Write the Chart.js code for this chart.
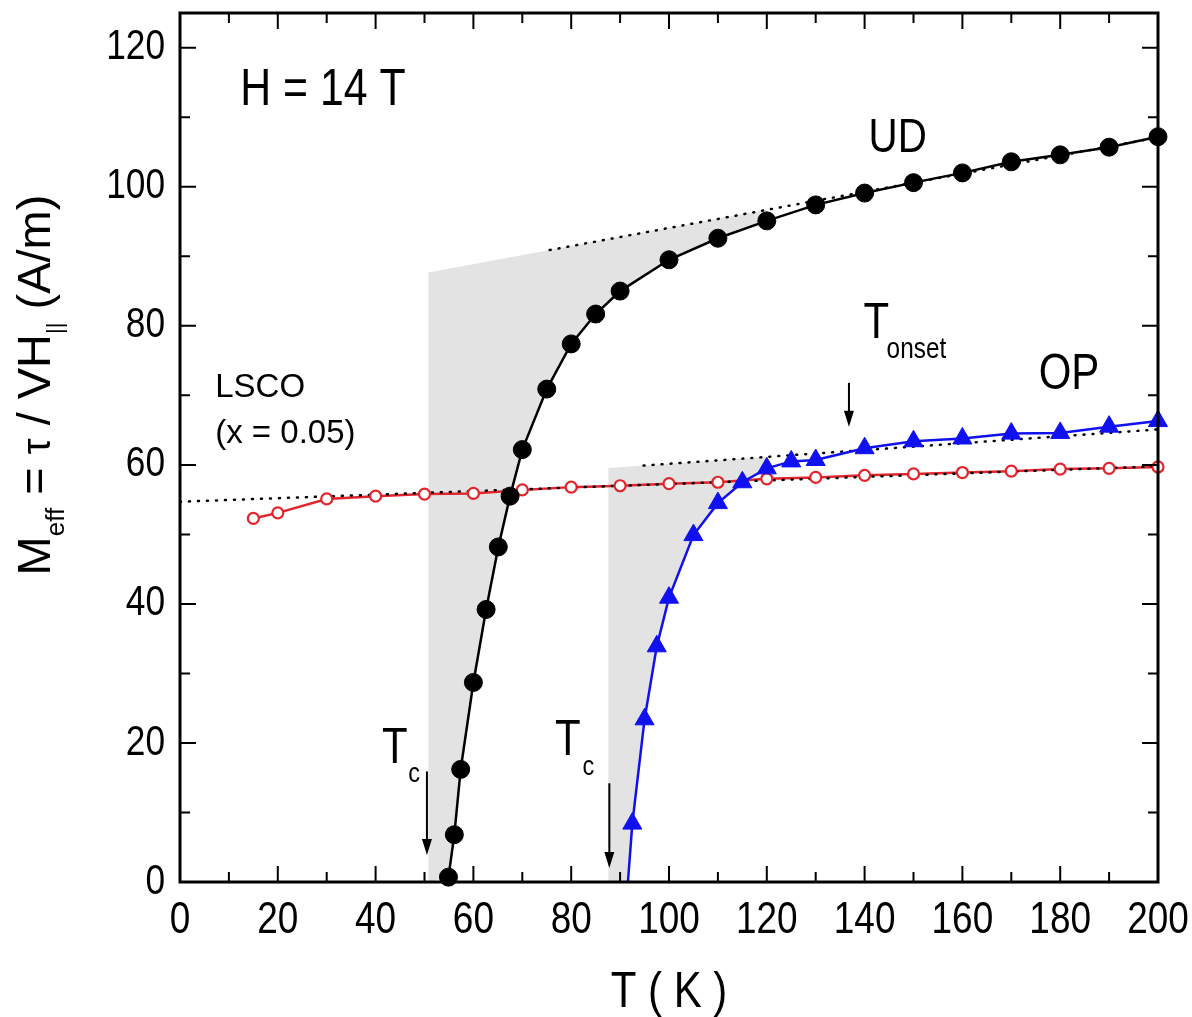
<!DOCTYPE html>
<html>
<head>
<meta charset="utf-8">
<script src="https://cdn.jsdelivr.net/npm/chart.js@4.4.1/dist/chart.umd.min.js"></script>
<style>
  html, body { margin: 0; padding: 0; background: #fff; }
</style>
</head>
<body>
<canvas id="magChart" width="1192" height="1017"></canvas>
<script>
// temperature (K) and effective magnetization (A/m)
const udT = [54.9, 56.1, 57.4, 60, 62.6, 65.1, 67.5, 70, 75, 80, 85, 90, 100, 110, 120, 130, 140, 150, 160, 170, 180, 190, 200];
const udM = [0.7, 6.8, 16.2, 28.7, 39.2, 48.2, 55.5, 62.2, 70.9, 77.4, 81.7, 85.0, 89.5, 92.6, 95.1, 97.4, 99.1, 100.6, 102.0, 103.6, 104.6, 105.7, 107.2];

const opT = [91.6, 92.5, 95, 97.5, 100, 105, 110, 115, 120, 125, 130, 140, 150, 160, 170, 180, 190, 200];
const opM = [0, 8.4, 23.4, 33.9, 40.9, 49.9, 54.5, 57.5, 59.5, 60.5, 60.7, 62.4, 63.4, 63.8, 64.5, 64.6, 65.5, 66.3];

const lscoT = [15, 20, 30, 40, 50, 60, 70, 80, 90, 100, 110, 120, 130, 140, 150, 160, 170, 180, 190, 200];
const lscoM = [52.3, 53.1, 55.1, 55.5, 55.8, 55.9, 56.4, 56.8, 57.0, 57.3, 57.5, 58.0, 58.2, 58.5, 58.7, 58.9, 59.1, 59.4, 59.5, 59.7];

// linear high-temperature backgrounds (end points)
const udFitT = [75.6, 200];
const udFitM = [90.9, 107.1];
const opFitT = [94.8, 200];
const opFitM = [59.9, 65.1];
const lscoFitT = [0, 200];
const lscoFitM = [54.7, 59.8];

// Tc and onset markers
const tcUD = 50.5;
const tcOP = 87.8;
const tOnset = 136.8;
const shadeUD = [50.8, 120];
const shadeOP = [87.6, 120];

const SANS = "'Liberation Sans', Arial, sans-serif";
const NARROW_X = 0.84;   // horizontal squeeze for the condensed lettering
const GREY = '#e3e3e3';
const RED = '#e3242b';
const BLUE = '#1010f0';

const pts = (xs, ys) => xs.map((x, i) => ({ x, y: ys[i] }));
const fitAt = (fT, fM, t) => fM[0] + (t - fT[0]) * (fM[1] - fM[0]) / (fT[1] - fT[0]);

// area between extrapolated background and the measured curve
function shadePoly(range, fT, fM, sT, sM) {
  const poly = [
    { x: range[0], y: 0 },
    { x: range[0], y: fitAt(fT, fM, range[0]) },
    { x: range[1], y: fitAt(fT, fM, range[1]) }
  ];
  for (let i = sT.length - 1; i >= 0; i--) {
    if (sT[i] <= range[1]) poly.push({ x: sT[i], y: sM[i] });
  }
  return poly;
}

// text squeezed horizontally
function narrowText(ctx, text, x, y, size, align, sx = NARROW_X) {
  ctx.save();
  ctx.font = `${size}px ${SANS}`;
  ctx.textAlign = align || 'left';
  ctx.scale(sx, 1);
  ctx.fillText(text, x / sx, y);
  ctx.restore();
}

const frameTicks = {
  id: 'frameTicks',
  afterDatasetsDraw(chart) {
    const { ctx, chartArea: a, scales: { x, y } } = chart;
    ctx.save();
    ctx.strokeStyle = '#000';
    ctx.fillStyle = '#000';
    ctx.lineWidth = 2;
    x.ticks.forEach(tk => {
      const px = x.getPixelForValue(tk.value);
      const major = tk.value % 20 === 0;
      const len = major ? 16 : 10;
      ctx.beginPath();
      ctx.moveTo(px, a.bottom); ctx.lineTo(px, a.bottom - len);
      ctx.moveTo(px, a.top); ctx.lineTo(px, a.top + len);
      ctx.stroke();
      if (major) {
        ctx.textBaseline = 'alphabetic';
        narrowText(ctx, String(tk.value), px, a.bottom + 51, 44, 'center');
      }
    });
    y.ticks.forEach(tk => {
      const py = y.getPixelForValue(tk.value);
      const major = tk.value % 20 === 0;
      const len = major ? 16 : 10;
      ctx.beginPath();
      ctx.moveTo(a.left, py); ctx.lineTo(a.left + len, py);
      ctx.moveTo(a.right, py); ctx.lineTo(a.right - len, py);
      ctx.stroke();
      if (major) {
        ctx.textBaseline = 'middle';
        narrowText(ctx, String(tk.value), a.left - 15, py, 42, 'right');
      }
    });
    ctx.lineWidth = 3;
    ctx.strokeRect(a.left, a.top, a.right - a.left, a.bottom - a.top);
    ctx.restore();
  }
};

function drawArrow(ctx, px, y0, y1) {
  ctx.beginPath();
  ctx.moveTo(px, y0);
  ctx.lineTo(px, y1 - 14);
  ctx.stroke();
  ctx.beginPath();
  ctx.moveTo(px - 5, y1 - 16);
  ctx.lineTo(px + 5, y1 - 16);
  ctx.lineTo(px, y1);
  ctx.closePath();
  ctx.fill();
}

const labels = {
  id: 'labels',
  afterDraw(chart) {
    const { ctx, chartArea: a, scales: { x, y } } = chart;
    const put = (text, t, m, size) =>
      narrowText(ctx, text, x.getPixelForValue(t), y.getPixelForValue(m), size, 'left');
    ctx.save();
    ctx.fillStyle = '#000';
    ctx.strokeStyle = '#000';
    ctx.lineWidth = 2;
    ctx.textBaseline = 'alphabetic';

    put('H = 14 T', 12.3, 111.7, 51);
    put('UD', 140.8, 105.0, 48);
    put('OP', 175.6, 70.9, 50);
    put('T', 139.8, 78.3, 50);
    put('onset', 144.5, 75.4, 29);
    put('T', 41.3, 17.1, 50);
    put('c', 46.7, 14.4, 28);
    put('T', 76.7, 18.3, 50);
    put('c', 82.3, 15.4, 28);

    ctx.font = `33px ${SANS}`;
    ctx.textAlign = 'left';
    ctx.fillText('LSCO', x.getPixelForValue(7.2), y.getPixelForValue(69.8));
    ctx.fillText('(x = 0.05)', x.getPixelForValue(7.2), y.getPixelForValue(63.2));

    drawArrow(ctx, x.getPixelForValue(tcUD), y.getPixelForValue(15.9), y.getPixelForValue(3.9));
    drawArrow(ctx, x.getPixelForValue(tcOP), y.getPixelForValue(14.2), y.getPixelForValue(2.0));
    drawArrow(ctx, x.getPixelForValue(tOnset), y.getPixelForValue(71.8), y.getPixelForValue(65.5));

    // x axis title
    narrowText(ctx, 'T ( K )', (a.left + a.right) / 2, 1007, 50, 'center');

    // y axis title with subscripts, rotated
    const parts = [
      { t: 'M', f: `47px ${SANS}`, dy: 0 },
      { t: 'eff', f: `26px ${SANS}`, dy: 14 },
      { t: ' = ', f: `47px ${SANS}`, dy: 0 },
      { t: 'τ', f: `40px ${SANS}`, dy: 0 },
      { t: ' / VH', f: `47px ${SANS}`, dy: 0 },
      { t: '||', f: `22px ${SANS}`, dy: 12 },
      { t: ' (A/m)', f: `47px ${SANS}`, dy: 0 }
    ];
    let total = 0;
    parts.forEach(p => { ctx.font = p.f; p.w = ctx.measureText(p.t).width; total += p.w; });
    ctx.translate(50, 385);
    ctx.rotate(-Math.PI / 2);
    ctx.textAlign = 'left';
    let cx = -total / 2;
    parts.forEach(p => {
      ctx.font = p.f;
      ctx.fillText(p.t, cx, p.dy);
      cx += p.w;
    });
    ctx.restore();
  }
};

const dotted = {
  showLine: true, borderColor: '#000', borderWidth: 2.5,
  borderDash: [1, 8], borderCapStyle: 'round', pointRadius: 0, order: 6
};

new Chart(document.getElementById('magChart').getContext('2d'), {
  type: 'scatter',
  data: {
    datasets: [
      {
        data: shadePoly(shadeUD, udFitT, udFitM, udT, udM),
        showLine: true, fill: 'shape', backgroundColor: GREY,
        borderWidth: 0, pointRadius: 0, order: 10
      },
      {
        data: shadePoly(shadeOP, opFitT, opFitM, opT, opM),
        showLine: true, fill: 'shape', backgroundColor: GREY,
        borderWidth: 0, pointRadius: 0, order: 10
      },
      {
        data: pts(lscoT, lscoM),
        showLine: true, borderColor: RED, borderWidth: 2.5,
        pointRadius: 0, order: 7, clip: false
      },
      { ...dotted, data: pts(udFitT, udFitM) },
      { ...dotted, data: pts(opFitT, opFitM) },
      { ...dotted, data: pts(lscoFitT, lscoFitM) },
      {
        data: pts(lscoT, lscoM),
        showLine: false, pointStyle: 'circle', pointRadius: 5.5,
        pointBackgroundColor: '#fff', pointBorderColor: RED, pointBorderWidth: 2.2,
        order: 5, clip: false
      },
      {
        data: pts(udT, udM),
        showLine: true, borderColor: '#000', borderWidth: 2.5,
        pointStyle: 'circle', pointRadius: 9,
        pointBackgroundColor: '#000', pointBorderColor: '#000', pointBorderWidth: 1,
        order: 4, clip: false
      },
      {
        data: pts(opT, opM),
        showLine: true, borderColor: BLUE, borderWidth: 2.5,
        pointStyle: 'triangle',
        pointRadius: ctx => (ctx.raw && ctx.raw.y === 0 ? 0 : 11),
        pointBackgroundColor: BLUE, pointBorderColor: BLUE, pointBorderWidth: 1,
        order: 3, clip: false
      }
    ]
  },
  options: {
    responsive: false,
    animation: false,
    events: [],
    layout: { padding: { top: 13, right: 34, left: 0, bottom: 0 } },
    plugins: { legend: { display: false }, tooltip: { enabled: false } },
    elements: { line: { tension: 0 } },
    scales: {
      x: {
        type: 'linear', min: 0, max: 200,
        grid: { display: false, drawTicks: false },
        border: { display: false },
        ticks: { display: false, stepSize: 10, includeBounds: false, autoSkip: false },
        afterFit: s => { s.height = 135; s.paddingLeft = 0; s.paddingRight = 0; }
      },
      y: {
        type: 'linear', min: 0, max: 125,
        grid: { display: false, drawTicks: false },
        border: { display: false },
        ticks: { display: false, stepSize: 10, includeBounds: false, autoSkip: false },
        afterFit: s => { s.width = 180; s.paddingTop = 0; s.paddingBottom = 0; }
      }
    }
  },
  plugins: [frameTicks, labels]
});
</script>
</body>
</html>
